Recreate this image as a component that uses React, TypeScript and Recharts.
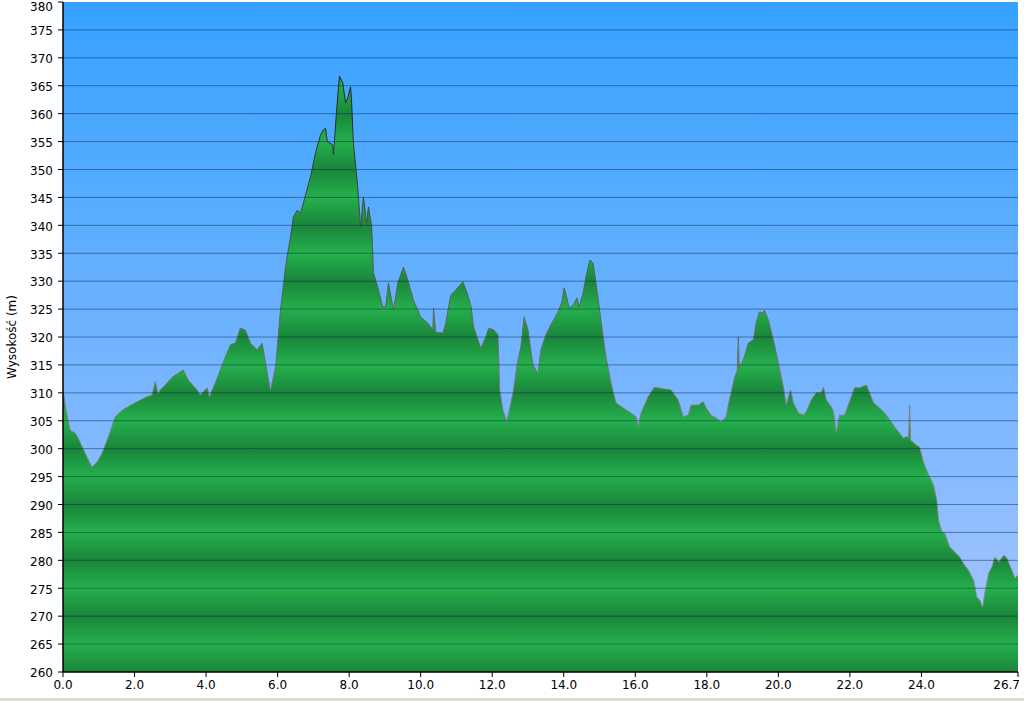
import React from 'react';
import { AreaChart, Area, XAxis, YAxis, CartesianGrid, ReferenceLine } from 'recharts';

const distanceKm = [
  0.0, 0.08, 0.2, 0.34, 0.42, 0.62, 0.81, 0.95, 1.09, 1.26, 1.46, 1.68, 2.07, 2.35, 2.49, 2.58, 2.66, 2.72, 2.86, 3.05,
  3.22, 3.36, 3.5, 3.61, 3.75, 3.84, 4.03, 4.09, 4.26, 4.48, 4.68, 4.82, 4.96, 5.1, 5.24, 5.43, 5.57, 5.66, 5.8, 5.94,
  6.08, 6.22, 6.36, 6.44, 6.55, 6.64, 6.72, 6.92, 7.06, 7.2, 7.28, 7.34, 7.39, 7.54, 7.56, 7.65, 7.73, 7.82, 7.9, 7.96,
  8.04, 8.07, 8.12, 8.24, 8.32, 8.4, 8.49, 8.54, 8.63, 8.68, 8.8, 8.94, 9.02, 9.1, 9.24, 9.36, 9.52, 9.64, 9.8, 10.0,
  10.2, 10.34, 10.36, 10.42, 10.62, 10.7, 10.84, 10.98, 11.18, 11.32, 11.41, 11.48, 11.68, 11.82, 11.9, 12.04, 12.16, 12.21, 12.3, 12.41,
  12.58, 12.72, 12.8, 12.89, 13.0, 13.14, 13.28, 13.36, 13.5, 13.64, 13.84, 13.95, 14.01, 14.09, 14.15, 14.26, 14.37, 14.43, 14.54, 14.62,
  14.73, 14.82, 14.9, 15.04, 15.18, 15.32, 15.46, 15.66, 15.83, 16.02, 16.08, 16.16, 16.36, 16.53, 16.81, 17.0, 17.2, 17.34, 17.48, 17.56,
  17.76, 17.9, 17.98, 18.12, 18.26, 18.4, 18.54, 18.63, 18.77, 18.85, 18.88, 18.91, 19.02, 19.16, 19.3, 19.38, 19.47, 19.58, 19.61, 19.72,
  19.86, 20.0, 20.14, 20.22, 20.34, 20.42, 20.56, 20.7, 20.78, 20.92, 21.06, 21.2, 21.26, 21.34, 21.48, 21.54, 21.62, 21.71, 21.85, 21.99,
  22.13, 22.27, 22.46, 22.55, 22.66, 22.83, 22.97, 23.11, 23.25, 23.39, 23.5, 23.59, 23.64, 23.67, 23.7, 23.87, 23.95, 24.06, 24.2, 24.34,
  24.43, 24.48, 24.57, 24.65, 24.79, 24.93, 25.07, 25.21, 25.32, 25.46, 25.55, 25.63, 25.71, 25.77, 25.88, 25.97, 26.05, 26.16, 26.3, 26.39,
  26.53, 26.61, 26.7,
];

const elevationM = [
  310.5, 307, 303.3, 302.8, 302, 299.2, 296.7, 297.6, 299.2, 302, 305.7, 307, 308.4, 309.3, 309.6, 312, 309.8, 310.5, 311.4, 312.8,
  313.5, 314.1, 312.3, 311.5, 310.5, 309.6, 310.9, 309.3, 311.8, 315.5, 318.6, 318.9, 321.6, 321.2, 318.9, 317.7, 318.9, 315.5, 310.5, 314.6,
  324.8, 332.5, 337.9, 341.5, 342.7, 342.2, 344, 348.7, 353, 356.2, 357.1, 357.4, 355, 354.4, 352.6, 360.6, 366.7, 365.5, 361.9, 362.8,
  364.8, 361.9, 354.7, 346.9, 339.7, 345.1, 340.4, 343.3, 339.7, 331.5, 328.9, 325.4, 325.4, 329.7, 324.8, 329.7, 332.5, 330.2, 326.6, 323.6,
  322.5, 321.3, 325.2, 320.9, 320.7, 322.5, 327.5, 328.4, 329.9, 327.5, 325.4, 321.8, 318, 320, 321.6, 321.3, 320.4, 310.5, 306.9, 304.8,
  310, 315.9, 318.2, 323.6, 321.3, 315, 313.5, 317.7, 320.4, 322.2, 324.5, 326.3, 328.8, 327, 325.2, 325.7, 327, 325.4, 327.8, 330.7,
  333.8, 333.2, 329.7, 323, 316.4, 311.8, 308.2, 307.3, 306.6, 305.7, 303.9, 306.4, 309.3, 311, 310.7, 310.5, 308.7, 305.7, 306, 307.8,
  307.8, 308.4, 307.3, 306, 305.5, 304.8, 305.7, 308.7, 312.6, 314, 320, 314.5, 315.9, 318.9, 319.5, 322.5, 324.5, 324.3, 324.8, 323,
  319.5, 315.3, 311, 307.8, 310.5, 308.2, 306.4, 306, 306.6, 308.7, 310, 310, 311, 308.7, 307.5, 306.6, 302.9, 306, 306, 308.4,
  310.9, 310.9, 311.4, 310, 308.2, 307.3, 306.4, 305.2, 303.9, 302.8, 301.9, 302.2, 302, 307.8, 301.5, 300.6, 300.3, 297.6, 295.3, 293.5,
  290.8, 287.2, 285.1, 284.9, 282.4, 281.5, 280.6, 279.1, 278.2, 276.4, 273.4, 272.9, 271.6, 274.1, 277.7, 278.8, 280.6, 279.7, 280.9, 280.4,
  278.2, 276.8, 277.3,
];

const xTicks = [0, 2, 4, 6, 8, 10, 12, 14, 16, 18, 20, 22, 24, 26.7];
const yTicks = [260, 265, 270, 275, 280, 285, 290, 295, 300, 305, 310, 315, 320, 325, 330, 335, 340, 345, 350, 355, 360, 365, 370, 375, 380];
const gridLevels = yTicks.filter((v) => v > 260 && v < 380);

const data = distanceKm.map((d, i) => ({ d, h: elevationM[i] }));

const FONT = '"DejaVu Sans", Verdana, sans-serif';
const LAST_X = xTicks[xTicks.length - 1];
const TOP_Y = yTicks[yTicks.length - 1];

function XTick(props: any) {
  const { x, y, payload } = props;
  const isLast = payload.value === LAST_X;
  return (
    <text
      x={isLast ? x + 2 : x}
      y={y}
      dy="0.71em"
      textAnchor={isLast ? 'end' : 'middle'}
      fill="#000"
      fontSize={12}
      fontFamily={FONT}
    >
      {Number(payload.value).toFixed(1)}
    </text>
  );
}

function YTick(props: any) {
  const { x, y, payload } = props;
  const isTop = payload.value === TOP_Y;
  return (
    <text
      x={x}
      y={isTop ? y + 5 : y + 1}
      dy="0.355em"
      textAnchor="end"
      fill="#000"
      fontSize={12}
      fontFamily={FONT}
    >
      {payload.value}
    </text>
  );
}

export default function App() {
  return (
    <div style={{ position: 'absolute', left: 0, top: 0, width: 1024, height: 701, background: '#ffffff', overflow: 'hidden' }}>
      <AreaChart width={1024} height={701} data={data} margin={{ top: 2, right: 6, bottom: 0, left: 0 }}>
        <defs>
          <linearGradient id="skyGrad" x1="0" y1="0" x2="0" y2="1">
            <stop offset="0%" stopColor="#35a2ff" />
            <stop offset="50%" stopColor="#6fb3ff" />
            <stop offset="100%" stopColor="#abc7ff" />
          </linearGradient>
          <linearGradient id="bandGrad" gradientUnits="userSpaceOnUse" x1="0" y1="2" x2="0" y2="57.83" spreadMethod="repeat">
            <stop offset="0%" stopColor="#1a853a" />
            <stop offset="50%" stopColor="#24b04c" />
            <stop offset="100%" stopColor="#1a853a" />
          </linearGradient>
          <linearGradient id="edgeGrad" gradientUnits="userSpaceOnUse" x1="0" y1="60" x2="0" y2="450">
            <stop offset="0%" stopColor="#151a18" />
            <stop offset="45%" stopColor="#4a524e" />
            <stop offset="100%" stopColor="#8a8a8a" />
          </linearGradient>
        </defs>
        <CartesianGrid horizontal={false} vertical={false} fill="url(#skyGrad)" fillOpacity={1} stroke="none" />
        <XAxis
          dataKey="d"
          type="number"
          domain={[0, 26.7]}
          ticks={xTicks}
          interval={0}
          height={29}
          axisLine={{ stroke: '#000', strokeWidth: 1.5 }}
          tickLine={{ stroke: '#000' }}
          tickSize={5}
          tickMargin={3}
          tick={<XTick />}
          allowDataOverflow
        />
        <YAxis
          type="number"
          domain={[260, 380]}
          ticks={yTicks}
          interval={0}
          width={63}
          axisLine={{ stroke: '#000', strokeWidth: 1.5 }}
          tickLine={{ stroke: '#000' }}
          tickSize={5}
          tickMargin={5}
          tick={<YTick />}
          allowDataOverflow
          label={{
            value: 'Wysokość (m)',
            angle: -90,
            position: 'insideLeft',
            offset: 12,
            style: { textAnchor: 'middle', fontSize: 12, fontFamily: FONT, fill: '#000' },
          }}
        />
        <Area
          type="linear"
          dataKey="h"
          baseValue={260}
          stroke="url(#edgeGrad)"
          strokeWidth={1}
          fill="url(#bandGrad)"
          fillOpacity={1}
          isAnimationActive={false}
          dot={false}
          activeDot={false}
        />
        {gridLevels.map((v) => (
          <ReferenceLine key={v} y={v} stroke="#0f2a52" strokeOpacity={0.5} strokeWidth={1} />
        ))}
      </AreaChart>
      <div style={{ position: 'absolute', left: 0, top: 698, width: 1024, height: 3, background: '#dcdcd4' }} />
    </div>
  );
}
